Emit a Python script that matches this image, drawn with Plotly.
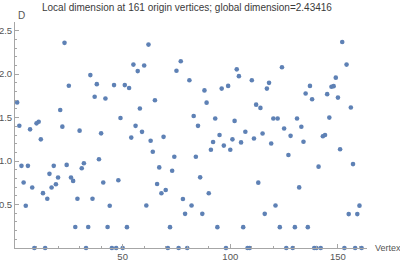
import plotly.graph_objects as go

title_text = "Local dimension at 161 origin vertices; global dimension=2.43416"
x_label = "Vertex"
y_label = "D"

vertex = list(range(1, 162))
dimension = [
    1.675, 1.407, 0.945, 0.753, 0.486, 0.945, 1.365, 0.696, 0.0, 1.434,
    1.453, 1.25, 0.631, 0.0, 0.566, 0.853, 0.696, 0.945, 0.734, 0.811,
    1.587, 1.396, 2.36, 0.956, 1.866, 0.811, 0.772, 0.241, 0.566, 1.35,
    0.918, 0.975, 0.0, 0.241, 1.989, 0.566, 1.74, 1.885, 1.021, 1.319,
    0.753, 1.72, 0.241, 0.486, 0.0, 1.874, 0.0, 0.78, 1.495, 0.0,
    1.874, 0.24, 1.84, 1.27, 2.11, 1.405, 2.035, 1.605, 1.336, 2.10,
    0.489, 2.34, 1.233, 1.107, 1.70, 0.737, 0.927, 0.63, 1.279, 0.668,
    0.0, 0.24, 0.889, 1.05, 2.04, 0.0, 2.149, 0.563, 0.393, 0.0,
    1.93, 0.489, 1.519, 1.05, 1.405, 0.813, 0.393, 1.813, 1.672, 0.63,
    1.13, 1.22, 1.489, 0.24, 1.30, 1.834, 1.178, 0.0, 1.865, 1.13,
    1.25, 1.462, 2.055, 1.977, 1.215, 0.24, 1.337, 0.0, 0.0, 1.93,
    1.26, 1.649, 0.752, 1.612, 1.318, 0.393, 1.834, 1.90, 1.203, 1.489,
    0.489, 1.489, 0.24, 2.08, 1.375, 0.0, 1.07, 1.29, 0.0, 0.24,
    1.489, 0.697, 1.395, 1.222, 1.777, 0.24, 1.865, 1.711, 0.0, 0.0,
    0.936, 0.0, 1.285, 1.30, 1.77, 1.50, 1.855, 1.862, 1.96, 1.73,
    1.136, 2.37, 0.0, 2.11, 0.39, 1.617, 0.965, 0.0, 0.39, 0.487,
    0.0,
]

x_ticks = [50, 100, 150]
x_tick_text = ["50", "100", "150"]
y_ticks = [0.5, 1.0, 1.5, 2.0, 2.5]
y_tick_text = ["0.5", "1.0", "1.5", "2.0", "2.5"]

point_color = "rgb(94,129,181)"
axis_color = "#a6a6a6"
text_color = "#555555"
font_family = "Liberation Sans, Arial, sans-serif"

fig = go.Figure()
fig.add_trace(go.Scatter(
    x=vertex, y=dimension, mode="markers",
    marker=dict(color=point_color, size=4.6, line=dict(width=0)),
    cliponaxis=False, showlegend=False,
))

fig.update_layout(
    width=400, height=262,
    margin=dict(l=15, r=33, t=22, b=14, autoexpand=False),
    paper_bgcolor="white", plot_bgcolor="white",
    font=dict(family=font_family, size=9.5, color=text_color),
    annotations=[
        dict(text=title_text, xref="paper", yref="paper", x=(186.5 - 15) / 352, y=(248 - 7.5) / 226,
             xanchor="center", yanchor="middle", showarrow=False,
             font=dict(family=font_family, size=10, color="#3a3a3a")),
        dict(text=y_label, xref="paper", yref="paper", x=0.0, y=(248 - 16) / 226,
             xanchor="left", yanchor="middle", xshift=1, showarrow=False,
             font=dict(size=10, color=text_color)),
        dict(text=x_label, xref="paper", yref="paper", x=1.0, y=0.0,
             xanchor="left", yanchor="middle", xshift=6, showarrow=False,
             font=dict(size=9, color=text_color)),
    ],
)

fig.update_xaxes(
    range=[0, 163.5], showgrid=False, zeroline=False, automargin=False,
    showline=True, linecolor=axis_color, linewidth=1,
    tickmode="array", tickvals=x_ticks, ticktext=x_tick_text,
    ticks="inside", ticklen=4, tickcolor=axis_color, tickwidth=1,
    minor=dict(ticks="inside", dtick=10, tick0=0, ticklen=2, tickcolor=axis_color, showgrid=False),
    tickfont=dict(size=9.5, color=text_color),
)
fig.update_yaxes(
    range=[0, 2.6], showgrid=False, zeroline=False, automargin=False,
    showline=True, linecolor=axis_color, linewidth=1,
    tickmode="array", tickvals=y_ticks, ticktext=y_tick_text,
    ticks="inside", ticklen=4, tickcolor=axis_color, tickwidth=1,
    minor=dict(ticks="inside", dtick=0.1, tick0=0, ticklen=2, tickcolor=axis_color, showgrid=False),
    tickfont=dict(size=9.5, color=text_color),
)

fig.write_html("out.html")
